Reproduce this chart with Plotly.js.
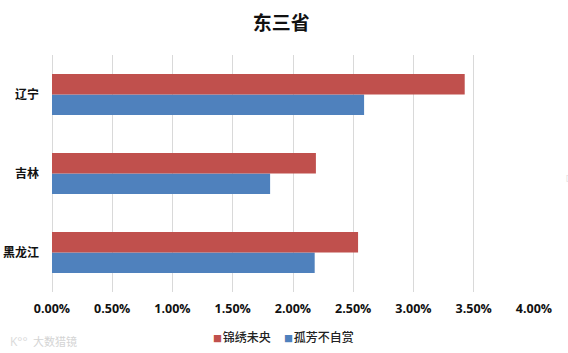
<!DOCTYPE html>
<html><head><meta charset="utf-8">
<script src="https://cdn.plot.ly/plotly-3.0.1.min.js"></script>
<style>html,body{margin:0;padding:0;background:#fff}#c{width:568px;height:353px}</style>
</head><body><div id="c"></div>
<script>
const categories = ['黑龙江','吉林','辽宁'];
const seriesRedName = '锦绣未央';
const seriesBlueName = '孤芳不自赏';
const redValues = [2.54, 2.19, 3.425];
const blueValues = [2.18, 1.81, 2.59];
const tickValues = [0,0.5,1,1.5,2,2.5,3,3.5,4];
const tickLabels = ['0.00%','0.50%','1.00%','1.50%','2.00%','2.50%','3.00%','3.50%','4.00%'];
const redColor = '#C0504D', blueColor = '#4F81BD';
const cjk = '"Noto Sans CJK SC","Noto Sans",sans-serif';
const latin = '"Open Sans","Noto Sans CJK SC",sans-serif';
const H = 353, W = 568;
const mT = 55, mB = 20, mL = 51.5, mR = 33.7;
const plotH = H - mT - mB, plotW = W - mL - mR;
const data = [
 {type:'bar',orientation:'h',name:seriesBlueName,y:categories,x:blueValues,marker:{color:blueColor},showlegend:false},
 {type:'bar',orientation:'h',name:seriesRedName,y:categories,x:redValues,marker:{color:redColor},showlegend:false}
];
function legendItem(label,color,x){
 return {xref:'paper',yref:'paper',x:(x-mL)/plotW,y:(H-mB-336)/plotH,xanchor:'left',yanchor:'middle',showarrow:false,
  text:'<span style="color:'+color+';font-size:9px">■</span><span style="font-size:3px"> </span>'+label,
  font:{family:cjk,size:12,color:'#222',weight:500}};
}
const layout = {
 width:W,height:H,paper_bgcolor:'#fff',plot_bgcolor:'#fff',
 margin:{l:mL,r:mR,t:mT,b:mB},
 barmode:'group',bargap:0.48,bargroupgap:0,showlegend:false,
 title:{text:'<b>东三省</b>',font:{family:cjk,size:19,color:'#111'},x:0.495,xanchor:'center',y:0.935,yanchor:'middle'},
 xaxis:{range:[0,4],tickmode:'array',tickvals:tickValues,ticktext:tickLabels,showgrid:true,gridcolor:'#D9D9D9',gridwidth:1,
   zeroline:true,zerolinecolor:'#D9D9D9',zerolinewidth:1,showline:false,ticks:'',ticklabelstandoff:7,
   tickfont:{family:latin,size:12.5,color:'#111',weight:700}},
 yaxis:{domain:[41/plotH,1],showgrid:false,zeroline:false,showline:false,ticks:'',ticklabelstandoff:12,
   tickfont:{family:cjk,size:12,color:'#111',weight:700}},
 annotations:[
  legendItem(seriesRedName,redColor,211),
  legendItem(seriesBlueName,blueColor,282),
  {xref:'paper',yref:'paper',x:(7-mL)/plotW,y:(H-mB-341)/plotH,xanchor:'left',yanchor:'middle',showarrow:false,text:'K°°',font:{family:latin,size:12,color:'#DADADA'}},
  {xref:'paper',yref:'paper',x:(30-mL)/plotW,y:(H-mB-341)/plotH,xanchor:'left',yanchor:'middle',showarrow:false,text:'大数猎镜',font:{family:cjk,size:11,color:'#D4D4D4'}},
  {xref:'paper',yref:'paper',x:(564-mL)/plotW,y:(H-mB-177)/plotH,xanchor:'left',yanchor:'middle',showarrow:false,text:'[',font:{family:latin,size:7,color:'#D8D8D8'}}
 ]
};
Plotly.newPlot('c',data,layout,{displayModeBar:false,staticPlot:true});
</script></body></html>
